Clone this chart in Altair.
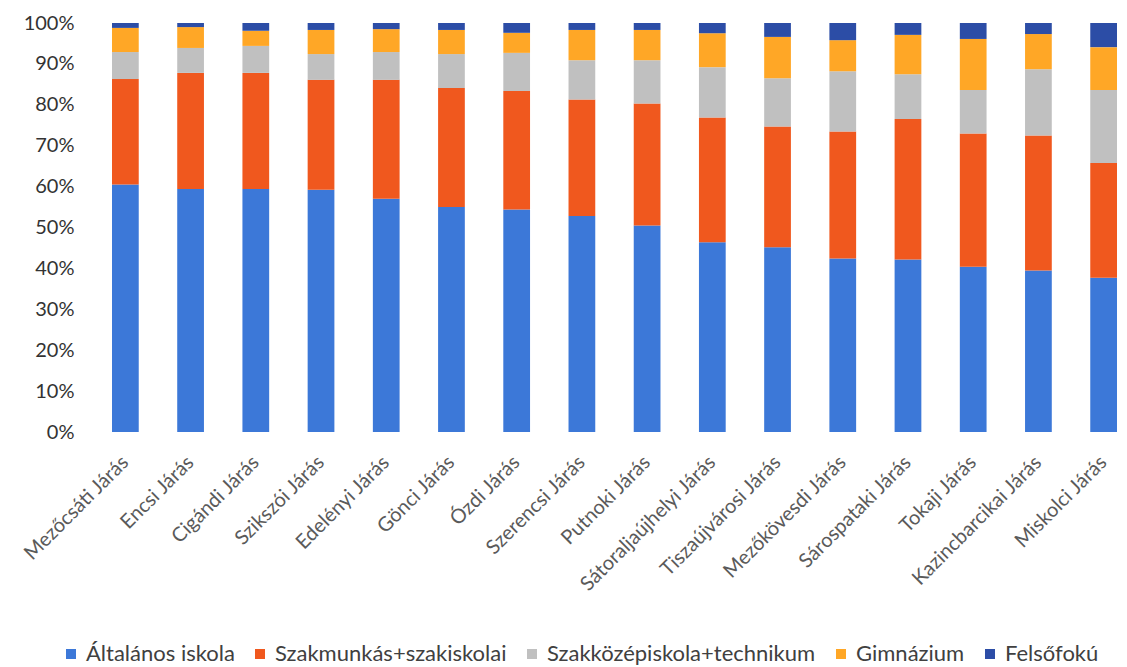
import altair as alt
import pandas as pd

jarasok = ["Mezőcsáti Járás", "Encsi Járás", "Cigándi Járás", "Szikszói Járás", "Edelényi Járás",
           "Gönci Járás", "Ózdi Járás", "Szerencsi Járás", "Putnoki Járás", "Sátoraljaújhelyi Járás",
           "Tiszaújvárosi Járás", "Mezőkövesdi Járás", "Sárospataki Járás", "Tokaji Járás",
           "Kazincbarcikai Járás", "Miskolci Járás"]

kategoriak = ["Általános iskola", "Szakmunkás+szakiskolai", "Szakközépiskola+technikum", "Gimnázium", "Felsőfokú"]

altalanos = [60.5, 59.4, 59.4, 59.2, 57.0, 55.0, 54.4, 52.8, 50.5, 46.4, 45.2, 42.4, 42.2, 40.4, 39.5, 37.7]
szakmunkas = [25.8, 28.4, 28.4, 26.9, 29.1, 29.1, 29.0, 28.5, 29.8, 30.5, 29.5, 31.1, 34.3, 32.6, 33.0, 28.1]
szakkozep = [6.6, 6.1, 6.6, 6.3, 6.8, 8.3, 9.3, 9.6, 10.6, 12.3, 11.8, 14.7, 11.0, 10.6, 16.2, 17.8]
gimnazium = [5.9, 5.1, 3.7, 5.9, 5.6, 5.9, 4.9, 7.4, 7.4, 8.3, 10.1, 7.6, 9.6, 12.5, 8.6, 10.5]
felsofoku = [1.2, 1.0, 1.9, 1.7, 1.5, 1.7, 2.4, 1.7, 1.7, 2.5, 3.4, 4.2, 2.9, 3.9, 2.7, 5.9]

szinek = ["#3C78D8", "#F0581E", "#C0C0C0", "#FFA726", "#2C4DA6"]

series = [altalanos, szakmunkas, szakkozep, gimnazium, felsofoku]
rows = []
for k, (kat, vals) in enumerate(zip(kategoriak, series)):
    for j, v in zip(jarasok, vals):
        rows.append({"jaras": j, "kategoria": kat, "ertek": v, "idx": k})
df = pd.DataFrame(rows)

FONT = "Lato"

chart = alt.Chart(df).mark_bar().encode(
    x=alt.X("jaras:N", sort=jarasok, title=None,
            scale=alt.Scale(paddingInner=0.59, paddingOuter=0.0),
            axis=alt.Axis(labelAngle=-45, labelAlign="right", labelBaseline="middle",
                          labelFontSize=20, labelColor="#5a5a5a",
                          ticks=False, domain=False, labelPadding=27, labelFont=FONT,
                          labelLimit=0, labelOverlap=False)),
    y=alt.Y("ertek:Q", stack="normalize", title=None,
            axis=alt.Axis(format=".0%", values=[i / 10 for i in range(11)], grid=False,
                          ticks=False, domain=False, labelFontSize=20, labelColor="#333333",
                          labelPadding=38, labelFont=FONT)),
    color=alt.Color("kategoria:N", sort=kategoriak,
                    scale=alt.Scale(domain=kategoriak, range=szinek),
                    legend=alt.Legend(orient="none", legendX=-52, legendY=620,
                                      direction="horizontal", title=None,
                                      symbolType="square", symbolSize=100, symbolStrokeWidth=0,
                                      labelFontSize=22, labelColor="#404040", labelFont=FONT,
                                      labelLimit=0, labelOffset=4, columnPadding=14)),
    order=alt.Order("idx:Q", sort="ascending"),
).properties(
    width=1005, height=409,
    padding={"left": 12, "top": 5, "right": 0, "bottom": 0},
).configure_view(stroke=None)

chart.save("out.html", embed_options={"renderer": "svg", "actions": False})
